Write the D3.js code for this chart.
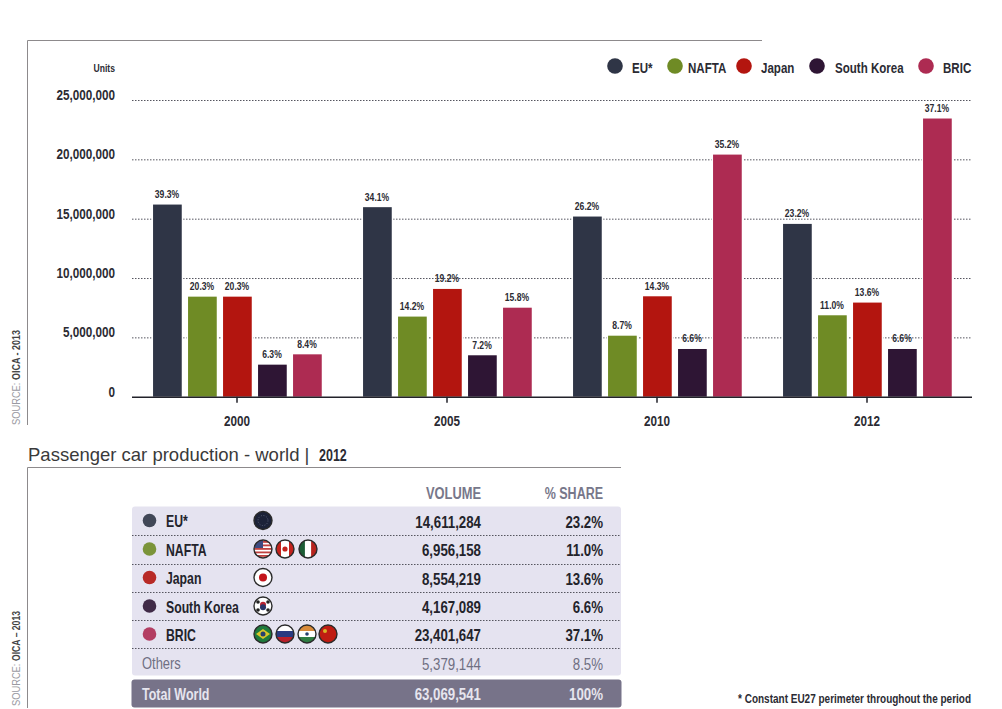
<!DOCTYPE html>
<html><head><meta charset="utf-8">
<script src="https://cdn.jsdelivr.net/npm/d3@7/dist/d3.min.js"></script>
<style>
html,body{margin:0;padding:0;background:#fff}
svg{display:block}
text{font-family:"Liberation Sans",sans-serif;font-weight:700;fill:#2b2b33}
</style></head><body><svg id="c" width="1002" height="709"></svg>
<script>
const years = ["2000","2005","2010","2012"];
const seriesNames = ["EU*","NAFTA","Japan","South Korea","BRIC"];
const seriesColors = ["#2f3546","#6f8b25","#b3150f","#2e1534","#ad2b52"];
const eu = [16190000,15970000,15180000,14560000];
const nafta = [8430000,6750000,5140000,6860000];
const japan = [8430000,9080000,8460000,7930000];
const korea = [2700000,3490000,4020000,4020000];
const bric = [3570000,7500000,20400000,23440000];
const euPct = ["39.3%","34.1%","26.2%","23.2%"];
const naftaPct = ["20.3%","14.2%","8.7%","11.0%"];
const japanPct = ["20.3%","19.2%","14.3%","13.6%"];
const koreaPct = ["6.3%","7.2%","6.6%","6.6%"];
const bricPct = ["8.4%","15.8%","35.2%","37.1%"];
const yTicks = [0,5000000,10000000,15000000,20000000,25000000];
const rowNames = ["EU*","NAFTA","Japan","South Korea","BRIC","Others"];
const rowVolumes = ["14,611,284","6,956,158","8,554,219","4,167,089","23,401,647","5,379,144"];
const rowShares = ["23.2%","11.0%","13.6%","6.6%","37.1%","8.5%"];
const rowFlags = [["eu"],["us","ca","mx"],["jp"],["kr"],["br","ru","in","cn"],[]];
const totalRow = ["Total World","63,069,541","100%"];

const values=[eu,nafta,japan,korea,bric], pcts=[euPct,naftaPct,japanPct,koreaPct,bricPct];
const svg=d3.select("#c");
const defs=svg.append("defs");
const y=d3.scaleLinear().domain([0,25000000]).range([396.7,100]);
const x0=d3.scaleBand().domain(years).range([132,972]);
const x1=d3.scaleBand().domain(seriesNames).range([-87.5,87.5]).paddingInner(0.18).paddingOuter(0.09);
const fmt=d3.format(",");

// frames
const frame="#8d8a8c";
svg.append("path").attr("d","M27.5 425V40.5H762").attr("fill","none").attr("stroke",frame).attr("stroke-width",1);
svg.append("path").attr("d","M27.5 708V467.5H621").attr("fill","none").attr("stroke",frame).attr("stroke-width",1);

// y axis + grid
const ya=svg.append("g").attr("transform","translate(132,0)")
 .call(d3.axisLeft(y).tickValues(yTicks).tickFormat(fmt).tickSize(-840).tickPadding(17));
ya.select(".domain").remove();
ya.selectAll(".tick line").attr("stroke","#55555f").attr("stroke-dasharray","1.5 1.5").attr("stroke-width",1);
ya.selectAll(".tick").filter(d=>d===0).select("line").remove();
ya.selectAll(".tick text").attr("font-size",15).attr("dy",-0.5).attr("fill","#2b2b33");
svg.append("text").attr("x",115).attr("y",72).attr("text-anchor","end").attr("font-size",11).text("Units");

// bars
const groups=svg.selectAll("g.yr").data(years).join("g").attr("class","yr")
 .attr("transform",d=>`translate(${x0(d)+x0.bandwidth()/2},0)`);
groups.each(function(yr,yi){
  const g=d3.select(this);
  seriesNames.forEach((s,si)=>{
    const v=values[si][yi];
    g.append("rect").attr("x",x1(s)+.4).attr("y",y(v)).attr("width",x1.bandwidth()).attr("height",y(0)-y(v))
      .attr("fill",seriesColors[si]).attr("stroke","#fff").attr("stroke-width",3).style("paint-order","stroke");
    g.append("text").attr("x",x1(s)+x1.bandwidth()/2).attr("y",y(v)-6.5).attr("text-anchor","middle")
      .attr("font-size",11).text(pcts[si][yi]);
  });
});

// x axis
const xa=svg.append("g").attr("transform",`translate(0,${y(0)})`)
 .call(d3.axisBottom(x0).tickSize(6));
xa.select(".domain").attr("d","M132 0.5H972").attr("stroke","#22222a").attr("stroke-width",1.6);
xa.selectAll(".tick line").attr("stroke","#22222a").attr("stroke-width",1.5);
xa.selectAll(".tick text").attr("font-size",15).attr("y",29).attr("dy",0).attr("fill","#2b2b33");

// legend
const legX=[615,675,744,817,926], legT=[632,688,761,835,943];
seriesNames.forEach((s,i)=>{
  svg.append("circle").attr("cx",legX[i]).attr("cy",66).attr("r",7.8).attr("fill",seriesColors[i]);
  svg.append("text").attr("x",legT[i]).attr("y",72.5).attr("font-size",14.8).text(s);
});

// source labels
function src(x,y0,b){
  const t=svg.append("text").attr("class","nosq").attr("transform",`translate(${x},${y0}) rotate(-90)`).attr("font-size",10);
  t.append("tspan").style("fill","#9a9aa2").style("font-weight",400).attr("textLength",45).attr("lengthAdjust","spacingAndGlyphs").text("SOURCE: ");
  t.append("tspan").style("fill","#444").attr("textLength",50).attr("lengthAdjust","spacingAndGlyphs").text(b);
}
src(20,425,"OICA - 2013");
src(20,706,"OICA – 2013");

// table title
svg.append("text").attr("class","nosq").attr("x",28).attr("y",461).attr("font-size",18.5).style("font-weight",400).style("fill","#3a3a3a").text("Passenger car production - world |");
svg.append("text").attr("x",319).attr("y",461).attr("font-size",16).text("2012");

// table
const rowY=[520.5,549,577.5,606,634,662.5];
const volX=481, shX=603;
svg.append("rect").attr("x",132).attr("y",506.5).attr("width",489).attr("height",169).attr("rx",3).attr("fill","#e5e3f0");
svg.append("rect").attr("x",131.5).attr("y",679.5).attr("width",490).attr("height",28).attr("rx",3).attr("fill","#777389");
[535,564,592,620,648].forEach(v=>svg.append("line").attr("x1",132).attr("x2",621).attr("y1",v+.5).attr("y2",v+.5)
  .attr("stroke","#55555f").attr("stroke-dasharray","1.5 1.5"));
svg.append("text").attr("x",volX).attr("y",499).attr("text-anchor","end").attr("font-size",16.5).style("fill","#77778a").text("VOLUME");
svg.append("text").attr("x",shX).attr("y",499).attr("text-anchor","end").attr("font-size",16).style("fill","#77778a").text("% SHARE");

// flags
function flag(cx,cy,code){
  const r=9, id="f"+code;
  defs.append("clipPath").attr("id",id).append("circle").attr("r",r);
  const g=svg.append("g").attr("transform",`translate(${cx},${cy})`);
  const c=g.append("g").attr("clip-path",`url(#${id})`);
  const R=(x,y,w,h,f)=>c.append("rect").attr("x",x).attr("y",y).attr("width",w).attr("height",h).attr("fill",f);
  const C=(x,y,rr,f)=>c.append("circle").attr("cx",x).attr("cy",y).attr("r",rr).attr("fill",f);
  R(-r,-r,2*r,2*r,"#fff");
  if(code==="eu"){R(-r,-r,2*r,2*r,"#1c2238"); C(0,0,5,"none").attr("stroke","#5a6078").attr("stroke-width",1).attr("stroke-dasharray","1 1.6");}
  if(code==="us"){[-7,-3.5,0,3.5,7].forEach(v=>R(-r,v-1,2*r,1.8,"#c0413f")); R(-r,-r,9,8,"#3d4a80");}
  if(code==="ca"){R(-r,-r,5,2*r,"#c3221d");R(r-5,-r,5,2*r,"#c3221d");C(0,0,2.6,"#c3221d");}
  if(code==="mx"){R(-r,-r,5.9,2*r,"#1c5c35");R(3.1,-r,5.9,2*r,"#b7241e");}
  if(code==="jp"){C(0,0,4,"#c3151c");}
  if(code==="kr"){C(0,-1.3,3,"#b92230");C(0,1.3,3,"#2a3468");[[-5,-4],[5,-4],[-5,4],[5,4]].forEach(p=>C(p[0],p[1],1.8,"#222"));}
  if(code==="br"){R(-r,-r,2*r,2*r,"#1f7a3c");c.append("path").attr("d","M-7 0L0-5L7 0L0 5Z").attr("fill","#d9c72a");C(0,0,2.5,"#27406f");}
  if(code==="ru"){R(-r,-3,2*r,6,"#2a3a80");R(-r,3,2*r,6,"#b9202a");}
  if(code==="in"){R(-r,-r,2*r,6,"#d98b3a");R(-r,3,2*r,6,"#2f7d42");C(0,0,1.8,"#27406f");}
  if(code==="cn"){R(-r,-r,2*r,2*r,"#bf1c12");C(-3,-3,2,"#d9b226");}
  g.append("circle").attr("r",r).attr("fill","none").attr("stroke","#2a2a2a").attr("stroke-width",1.4);
}
const flagXs=[[263],[263,285,308],[263],[263],[263,285,307,328],[]];
rowNames.forEach((n,i)=>{
  const yy=rowY[i], other=i===5, fill=other?"#6f6f82":"#23232b", w=other?400:700;
  if(!other) svg.append("circle").attr("cx",149.5).attr("cy",yy).attr("r",6.8).attr("fill",seriesColors[i]).attr("opacity",.9);
  svg.append("text").attr("x",other?142:166).attr("y",yy+6.5).attr("font-size",other?16.6:15.7).style("fill",fill).style("font-weight",w).text(n);
  svg.append("text").attr("x",volX).attr("y",yy+7).attr("text-anchor","end").attr("font-size",17).style("fill",fill).style("font-weight",w).text(rowVolumes[i]);
  svg.append("text").attr("x",shX).attr("y",yy+7).attr("text-anchor","end").attr("font-size",17).style("fill",fill).style("font-weight",w).text(rowShares[i]);
  rowFlags[i].forEach((c,j)=>flag(flagXs[i][j],yy,c));
});
[[142,"start",16],[volX,"end",17],[shX,"end",17]].forEach((p,i)=>svg.append("text").attr("x",p[0]).attr("y",699.5)
  .attr("text-anchor",p[1]).attr("font-size",p[2]).style("fill","#e6e5ee").text(totalRow[i]));
svg.append("text").attr("x",971).attr("y",703).attr("text-anchor","end").attr("font-size",12.8).text("* Constant EU27 perimeter throughout the period");

// the source type is a condensed face: narrow each label while keeping it real text
const squeeze=0.78;
svg.selectAll("text").filter(function(){return !this.classList.contains("nosq");}).each(function(){
  this.setAttribute("textLength",this.getComputedTextLength()*squeeze);
  this.setAttribute("lengthAdjust","spacingAndGlyphs");
});
</script></body></html>
